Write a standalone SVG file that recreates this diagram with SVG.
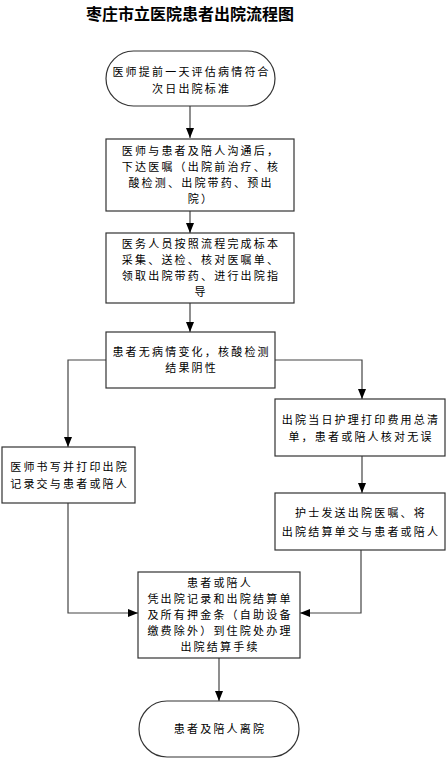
<svg xmlns="http://www.w3.org/2000/svg" width="447" height="759" viewBox="0 0 447 759">
<defs>
<style>
.box{fill:#fff;stroke:#333;stroke-width:1.2}
.t{font-family:"Noto Sans CJK SC","Liberation Sans",sans-serif;font-size:11px;fill:#000;text-anchor:middle;letter-spacing:2.2px}
.title{font-family:"Noto Sans CJK SC","Liberation Sans",sans-serif;font-size:16px;font-weight:bold;fill:#000;text-anchor:middle}
.c{fill:none;stroke:#444;stroke-width:1.2}
</style>
<marker id="ah" viewBox="0 0 10 8" markerWidth="10" markerHeight="8" refX="10" refY="4" orient="auto" markerUnits="userSpaceOnUse">
<path d="M0,0 L10,4 L0,8 z" fill="#000"/>
</marker>
</defs>
<rect width="447" height="759" fill="#fff"/>
<text class="title" x="190" y="20">枣庄市立医院患者出院流程图</text>

<g id="connectors">
<path class="c" d="M190,106 V138" marker-end="url(#ah)"/>
<path class="c" d="M190,211 V233" marker-end="url(#ah)"/>
<path class="c" d="M190,303 V332" marker-end="url(#ah)"/>
<path class="c" d="M106,360 H68 V447" marker-end="url(#ah)"/>
<path class="c" d="M275,360 H362 V399" marker-end="url(#ah)"/>
<path class="c" d="M362,456 V493" marker-end="url(#ah)"/>
<path class="c" d="M68,503 V613 H138" marker-end="url(#ah)"/>
<path class="c" d="M361,550 V613 H300" marker-end="url(#ah)"/>
<path class="c" d="M219,658 V701" marker-end="url(#ah)"/>
</g>

<g id="start">
<rect class="box" x="106" y="51" width="169" height="55" rx="27.5" ry="27.5"/>
<text class="t" x="191.6" y="76">医师提前一天评估病情符合</text>
<text class="t" x="191.6" y="93">次日出院标准</text>
</g>

<g id="order">
<rect class="box" x="106" y="139" width="188" height="72"/>
<text class="t" x="201" y="155">医师与患者及陪人沟通后，</text>
<text class="t" x="201" y="171">下达医嘱（出院前治疗、核</text>
<text class="t" x="201" y="187">酸检测、出院带药、预出</text>
<text class="t" x="201" y="203">院）</text>
</g>

<g id="staff">
<rect class="box" x="106" y="233" width="188" height="70"/>
<text class="t" x="201" y="248">医务人员按照流程完成标本</text>
<text class="t" x="201" y="264">采集、送检、核对医嘱单、</text>
<text class="t" x="201" y="280">领取出院带药、进行出院指</text>
<text class="t" x="201" y="296">导</text>
</g>

<g id="check">
<rect class="box" x="106" y="332" width="169" height="56"/>
<text class="t" x="191.6" y="356">患者无病情变化，核酸检测</text>
<text class="t" x="191.6" y="372">结果阴性</text>
</g>

<g id="record">
<rect class="box" x="2" y="447" width="133" height="56"/>
<text class="t" x="69.6" y="471">医师书写并打印出院</text>
<text class="t" x="69.6" y="488">记录交与患者或陪人</text>
</g>

<g id="bill">
<rect class="box" x="275" y="399" width="170" height="57"/>
<text class="t" x="361" y="424">出院当日护理打印费用总清</text>
<text class="t" x="361" y="441">单，患者或陪人核对无误</text>
</g>

<g id="nurse">
<rect class="box" x="275" y="493" width="170" height="57"/>
<text class="t" x="361" y="517">护士发送出院医嘱、将</text>
<text class="t" x="361" y="536">出院结算单交与患者或陪人</text>
</g>

<g id="settle">
<rect class="box" x="138" y="572" width="162" height="86"/>
<text class="t" x="220" y="587">患者或陪人</text>
<text class="t" x="220" y="603">凭出院记录和出院结算单</text>
<text class="t" x="220" y="619">及所有押金条（自助设备</text>
<text class="t" x="220" y="635">缴费除外）到住院处办理</text>
<text class="t" x="220" y="651">出院结算手续</text>
</g>

<g id="end">
<rect class="box" x="139" y="701" width="160" height="56" rx="28" ry="28"/>
<text class="t" x="220" y="733">患者及陪人离院</text>
</g>
</svg>
